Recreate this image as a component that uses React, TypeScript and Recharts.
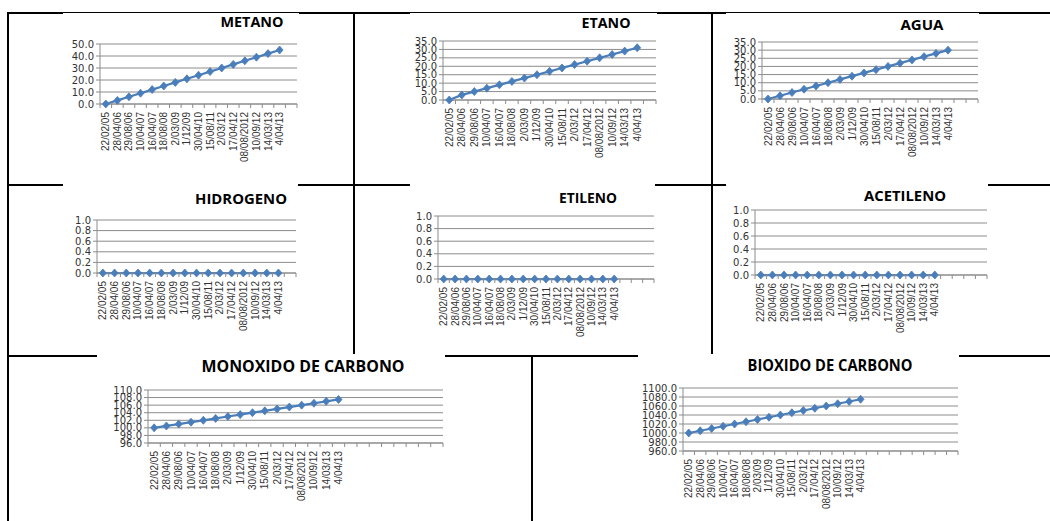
import { CartesianGrid, Line, LineChart, XAxis, YAxis } from 'recharts'

const fechas = [
  '22/02/05', '28/04/06', '29/08/06', '10/04/07', '16/04/07', '18/08/08', '2/03/09', '1/12/09',
  '30/04/10', '15/08/11', '2/03/12', '17/04/12', '08/08/2012', '10/09/12', '14/03/13', '4/04/13',
]

const metano = [0, 3, 6, 9, 12, 15, 18, 21, 24, 27, 30, 33, 36, 39, 42, 45]
const etano = [0, 3, 5, 7, 9, 11, 13, 15, 17, 19, 21, 23, 25, 27, 29, 31]
const agua = [0, 2, 4, 6, 8, 10, 12, 14, 16, 18, 20, 22, 24, 26, 28, 30]
const hidrogeno = [0, 0, 0, 0, 0, 0, 0, 0, 0, 0, 0, 0, 0, 0, 0, 0]
const etileno = [0, 0, 0, 0, 0, 0, 0, 0, 0, 0, 0, 0, 0, 0, 0, 0]
const acetileno = [0, 0, 0, 0, 0, 0, 0, 0, 0, 0, 0, 0, 0, 0, 0, 0]
const monoxido = [100, 100.5, 101, 101.5, 102, 102.5, 103, 103.5, 104, 104.5, 105, 105.5, 106, 106.5, 107, 107.5]
const bioxido = [1000, 1005, 1010, 1015, 1020, 1025, 1030, 1035, 1040, 1045, 1050, 1055, 1060, 1065, 1070, 1075]

const ticksMetano = [0, 10, 20, 30, 40, 50]
const ticksEtano = [0, 5, 10, 15, 20, 25, 30, 35]
const ticksAgua = [0, 5, 10, 15, 20, 25, 30, 35]
const ticksCero = [0, 0.2, 0.4, 0.6, 0.8, 1]
const ticksMonoxido = [96, 98, 100, 102, 104, 106, 108, 110]
const ticksBioxido = [960, 980, 1000, 1020, 1040, 1060, 1080, 1100]

const AZUL = '#4a7ebb'
const GRID = '#8c8c8c'
const XH = 60

interface Box { l: number; t: number; r: number; b: number }

interface PanelCfg {
  title: string
  values: number[]
  ticks: number[]
  n: number
  box: Box
  plot: Box
  titleX: number
  titleBase: number
  titleW: number
  titleSize: number
}

const panels: PanelCfg[] = [
  { title: 'METANO', values: metano, ticks: ticksMetano, n: 17,
    box: { l: 63, t: 13, r: 299, b: 184 }, plot: { l: 100, t: 44, r: 297, b: 104 },
    titleX: 252, titleBase: 27, titleW: 63, titleSize: 14 },
  { title: 'ETANO', values: etano, ticks: ticksEtano, n: 17,
    box: { l: 410, t: 13, r: 657, b: 184 }, plot: { l: 443, t: 41, r: 656, b: 100 },
    titleX: 606, titleBase: 28, titleW: 49, titleSize: 14 },
  { title: 'AGUA', values: agua, ticks: ticksAgua, n: 18,
    box: { l: 726, t: 13, r: 979, b: 184 }, plot: { l: 762, t: 42, r: 978, b: 99 },
    titleX: 922, titleBase: 30, titleW: 43, titleSize: 14 },
  { title: 'HIDROGENO', values: hidrogeno, ticks: ticksCero, n: 17,
    box: { l: 63, t: 183, r: 298, b: 354 }, plot: { l: 97, t: 220, r: 296, b: 273 },
    titleX: 241, titleBase: 204, titleW: 92, titleSize: 14 },
  { title: 'ETILENO', values: etileno, ticks: ticksCero, n: 19,
    box: { l: 410, t: 183, r: 655, b: 354 }, plot: { l: 438, t: 216, r: 654, b: 279 },
    titleX: 588, titleBase: 203, titleW: 58, titleSize: 14 },
  { title: 'ACETILENO', values: acetileno, ticks: ticksCero, n: 20,
    box: { l: 726, t: 183, r: 988, b: 354 }, plot: { l: 755, t: 210, r: 987, b: 275 },
    titleX: 905, titleBase: 201, titleW: 82, titleSize: 14 },
  { title: 'MONOXIDO DE CARBONO', values: monoxido, ticks: ticksMonoxido, n: 24,
    box: { l: 97, t: 354, r: 445, b: 521 }, plot: { l: 148, t: 390, r: 443, b: 443 },
    titleX: 303, titleBase: 372, titleW: 203, titleSize: 16 },
  { title: 'BIOXIDO DE CARBONO', values: bioxido, ticks: ticksBioxido, n: 24,
    box: { l: 638, t: 354, r: 959, b: 521 }, plot: { l: 683, t: 388, r: 958, b: 451 },
    titleX: 830, titleBase: 371, titleW: 165, titleSize: 16 },
]

function Diamond(props: any) {
  const { cx, cy, index } = props
  if (cx == null || cy == null) return <g key={index} />
  return (
    <polygon
      key={index}
      points={`${cx},${cy - 4} ${cx + 3.5},${cy} ${cx},${cy + 4} ${cx - 3.5},${cy}`}
      fill={AZUL}
      stroke={AZUL}
      strokeWidth={0.8}
    />
  )
}

function makeTick(bw: number, n: number) {
  return function FechaTick(props: any) {
    const { x, y, payload } = props
    const i = payload.value as number
    const label = i < fechas.length ? fechas[i] : ''
    return (
      <g>
        <line x1={x - bw / 2} y1={y} x2={x - bw / 2} y2={y + 4} stroke={GRID} />
        {i === n - 1 && <line x1={x + bw / 2} y1={y} x2={x + bw / 2} y2={y + 4} stroke={GRID} />}
        <text
          x={x}
          y={y + 8}
          transform={`rotate(-90 ${x} ${y + 8})`}
          textAnchor="end"
          dominantBaseline="central"
          fontFamily="Liberation Sans"
          fontSize={10}
          fill="#333"
        >
          {label}
        </text>
      </g>
    )
  }
}

function Panel({ cfg }: { cfg: PanelCfg }) {
  const { box, plot, n, values, ticks } = cfg
  const W = box.r - box.l
  const H = box.b - box.t
  const bw = (plot.r - plot.l) / n
  const data = Array.from({ length: n }, (_, i) => ({ idx: i, v: i < values.length ? values[i] : undefined }))
  return (
    <div style={{ position: 'absolute', left: box.l, top: box.t, width: W, height: H, background: '#fff' }}>
      <LineChart
        width={W}
        height={H}
        data={data}
        margin={{ top: plot.t - box.t, left: 0, right: box.r - plot.r, bottom: Math.max(0, box.b - plot.b - XH) }}
      >
        <CartesianGrid horizontal vertical={false} stroke={GRID} />
        <XAxis
          dataKey="idx"
          type="category"
          height={XH}
          interval={0}
          tickSize={0}
          tickMargin={0}
          tickLine={false}
          axisLine={{ stroke: GRID }}
          padding={{ left: bw / 2, right: bw / 2 }}
          tick={makeTick(bw, n)}
        />
        <YAxis
          width={plot.l - box.l}
          domain={[ticks[0], ticks[ticks.length - 1]]}
          ticks={ticks}
          interval={0}
          tickSize={4}
          tickMargin={2}
          axisLine={{ stroke: GRID }}
          tickLine={{ stroke: GRID }}
          tickFormatter={(v: number) => v.toFixed(1)}
          tick={{ fontFamily: 'DejaVu Sans', fontSize: 10, fill: '#333' }}
        />
        <Line
          dataKey="v"
          stroke={AZUL}
          strokeWidth={2.25}
          dot={Diamond}
          activeDot={false}
          isAnimationActive={false}
        />
      </LineChart>
      <svg width={W} height={H} style={{ position: 'absolute', left: 0, top: 0, pointerEvents: 'none' }}>
        <text
          x={cfg.titleX - box.l}
          y={cfg.titleBase - box.t}
          textAnchor="middle"
          textLength={cfg.titleW}
          lengthAdjust="spacingAndGlyphs"
          fontFamily="Open Sans"
          fontWeight="bold"
          fontSize={cfg.titleSize}
          fill="#000"
        >
          {cfg.title}
        </text>
      </svg>
    </div>
  )
}

const lineas = [
  { l: 8, t: 12, w: 1042, h: 2 },
  { l: 8, t: 184, w: 1042, h: 2 },
  { l: 8, t: 355, w: 1042, h: 2 },
  { l: 7, t: 12, w: 2, h: 509 },
  { l: 353, t: 12, w: 2, h: 345 },
  { l: 711, t: 12, w: 2, h: 345 },
  { l: 531, t: 355, w: 2, h: 166 },
]

export default function App() {
  return (
    <div style={{ position: 'absolute', left: 0, top: 0, width: 1050, height: 521, background: '#fff', overflow: 'hidden' }}>
      {lineas.map((s, i) => (
        <div key={i} style={{ position: 'absolute', left: s.l, top: s.t, width: s.w, height: s.h, background: '#000' }} />
      ))}
      {panels.map((p) => (
        <Panel key={p.title} cfg={p} />
      ))}
    </div>
  )
}
